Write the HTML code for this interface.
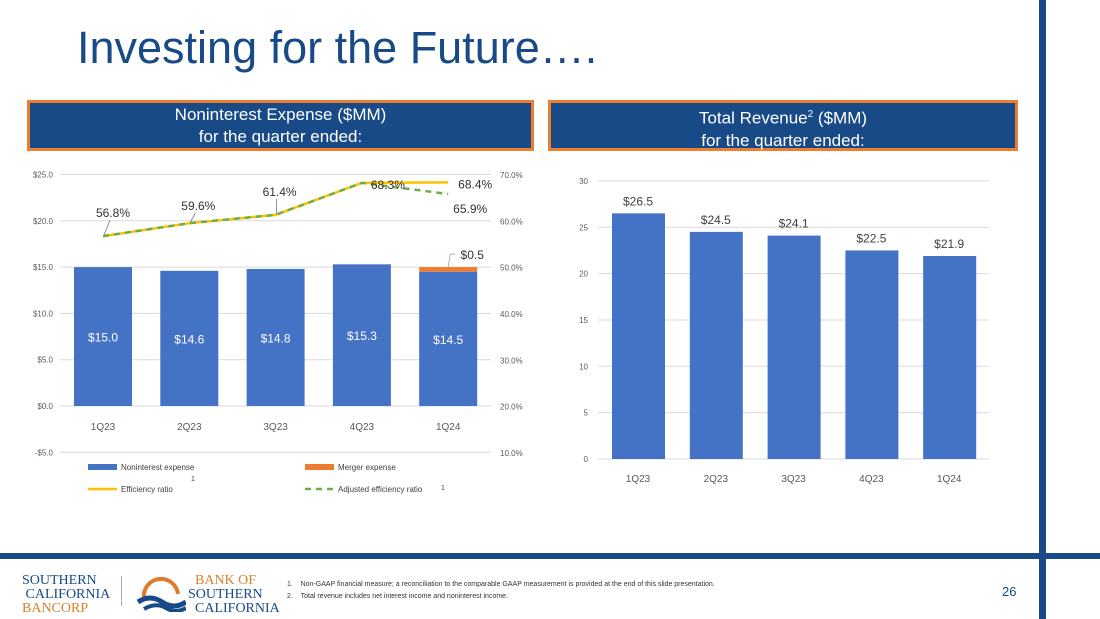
<!DOCTYPE html>
<html><head><meta charset="utf-8"><style>
body{margin:0;width:1100px;height:619px;overflow:hidden;background:#fff;font-family:"Liberation Sans",sans-serif;position:relative}
.hdr{position:absolute;top:100px;height:44px;background:#174a87;border:3px solid #ed7d31;color:#fff;text-align:center;font-size:17px;line-height:22px;padding-top:1px}
</style></head><body>
<div style="position:absolute;left:1039px;top:0;width:7px;height:619px;background:#174a87"></div>
<div style="position:absolute;left:0;top:553px;width:1100px;height:6px;background:#174a87"></div>
<div style="position:absolute;left:77px;top:22px;font-size:45px;color:#174a87">Investing for the Future….</div>
<div class="hdr" style="left:27px;width:501px">Noninterest Expense ($MM)<br>for the quarter ended:</div>
<div class="hdr" style="left:548px;width:464px">Total Revenue<sup style="font-size:10px">2</sup> ($MM)<br>for the quarter ended:</div>
<svg id="c1" width="1100" height="619" style="position:absolute;left:0;top:0" font-family="Liberation Sans, sans-serif"></svg>
<div style="position:absolute;left:22px;top:574px;font-family:'Liberation Serif',serif;font-size:14px;line-height:14px;color:#174a87">SOUTHERN<br>&nbsp;CALIFORNIA<br><span style="color:#d9812f">BANCORP</span></div>
<div style="position:absolute;left:121px;top:576px;width:1px;height:30px;background:#aaa"></div>
<svg style="position:absolute;left:136px;top:572px" width="50" height="40"><path d="M8 26 A17 17 0 1 1 42 22" fill="none" stroke="#e07b2b" stroke-width="4"/><path d="M2 30 Q14 22 26 30 T50 30" stroke="#174a87" stroke-width="5" fill="none"/><path d="M8 37 Q20 30 30 36 T50 36" stroke="#174a87" stroke-width="4" fill="none"/></svg>
<div style="position:absolute;left:188px;top:574px;font-family:'Liberation Serif',serif;font-size:14px;line-height:14px;color:#174a87"><span style="color:#d9812f">&nbsp;&nbsp;BANK OF</span><br>SOUTHERN<br>&nbsp;&nbsp;CALIFORNIA</div>
<div style="position:absolute;left:287px;top:579px;font-size:7px;line-height:12px;color:#333">1.&nbsp;&nbsp;&nbsp;&nbsp;Non-GAAP financial measure; a reconciliation to the comparable GAAP measurement is provided at the end of this slide presentation.<br>2.&nbsp;&nbsp;&nbsp;&nbsp;Total revenue includes net interest income and noninterest income.</div>
<div style="position:absolute;left:1002px;top:584px;font-size:13px;color:#174a87">26</div>
<script>
const cats=["1Q23","2Q23","3Q23","4Q23","1Q24"];
const nonint=[15.0,14.6,14.8,15.3,14.5];
const merger=[0,0,0,0,0.5];
const eff=[56.8,59.6,61.4,68.3,68.4];
const adjEff=[56.8,59.6,61.4,68.3,65.9];
const leftTicks=[-5,0,5,10,15,20,25];
const rightTicks=[10,20,30,40,50,60,70];
const revenue=[26.5,24.5,24.1,22.5,21.9];
const revTicks=[0,5,10,15,20,25,30];
const NS="http://www.w3.org/2000/svg";
const svg=document.getElementById('c1');
function el(t,a,txt){const e=document.createElementNS(NS,t);for(const k in a)e.setAttribute(k,a[k]);if(txt!==undefined)e.textContent=txt;svg.appendChild(e);return e;}
const yL=v=>406-v*9.26, yR=p=>175+(70-p)*4.633, xL=i=>103+i*86.3;
leftTicks.forEach(t=>{const g=el('line',{x1:60,x2:491,y1:yL(t),y2:yL(t),stroke:'#d9d9d9'});
const l=el('text',{x:53,y:yL(t)+3,'text-anchor':'end','font-size':8,fill:'#595959'},(t<0?'-$':'$')+Math.abs(t).toFixed(1));});
rightTicks.forEach(t=>{const l=el('text',{x:500,y:yR(t)+3,'font-size':8,fill:'#595959'},t.toFixed(1)+'%');});
cats.forEach((c,i)=>{const x=xL(i);
const b=el('rect',{x:x-29,y:yL(nonint[i]),width:58,height:nonint[i]*9.26,fill:'#4472c4'});
if(merger[i]>0){const top=yL(nonint[i]+merger[i]);const m=el('rect',{x:x-29,y:top,width:58,height:merger[i]*9.26,fill:'#ed7d31'});
const ml=el('text',{x:x+24,y:top-8,'text-anchor':'middle','font-size':12,fill:'#333'},'$'+merger[i].toFixed(1));
el('path',{d:`M${x} ${top} L${x+2} ${top-13} L${x+7} ${top-13}`,stroke:'#999',fill:'none','stroke-width':0.7});}
const bl=el('text',{x:x,y:yL(nonint[i]/2)+5,'text-anchor':'middle','font-size':12,fill:'#fff'},'$'+nonint[i].toFixed(1));
const xl=el('text',{x:x,y:430,'text-anchor':'middle','font-size':10,fill:'#595959'},c);});
const p1=el('polyline',{points:eff.map((v,i)=>xL(i)+','+yR(v)).join(' '),fill:'none',stroke:'#ffc000','stroke-width':2.5});
const p2=el('polyline',{points:adjEff.map((v,i)=>xL(i)+','+yR(v)).join(' '),fill:'none',stroke:'#70ad47','stroke-width':2.5,'stroke-dasharray':'6,5'});
const ldx=[10,9,4,26,27], ldy=[-19,-13,-19,6,6];
eff.forEach((v,i)=>{const t=el('text',{x:xL(i)+ldx[i],y:yR(v)+ldy[i],'text-anchor':'middle','font-size':12,fill:'#333'},v.toFixed(1)+'%');
if(i<3)el('line',{x1:xL(i)+1,y1:yR(v)-1,x2:xL(i)+ldx[i]-3,y2:yR(v)+ldy[i]+3,stroke:'#666','stroke-width':0.7});});
const al=el('text',{x:xL(4)+22,y:yR(adjEff[4])+19,'text-anchor':'middle','font-size':12,fill:'#333'},adjEff[4].toFixed(1)+'%');
[[0,'rect','#4472c4','Noninterest expense',88,467],[1,'rect','#ed7d31','Merger expense',305,467],[2,'line','#ffc000','Efficiency ratio',88,489],[3,'dash','#70ad47','Adjusted efficiency ratio',305,489]].forEach(l=>{
if(l[1]=='rect')el('rect',{x:l[4],y:l[5]-3,width:29,height:6,fill:l[2]});else el('line',{x1:l[4],x2:l[4]+29,y1:l[5],y2:l[5],stroke:l[2],'stroke-width':2.5,'stroke-dasharray':l[1]=='dash'?'6,5':''});
const t=el('text',{x:l[4]+33,y:l[5]+3,'font-size':8,fill:'#404040'},l[3]);});
el('text',{x:191,y:481,'font-size':7,fill:'#404040'},'1');el('text',{x:441,y:490,'font-size':7,fill:'#404040'},'1');
const yV=v=>459-v*9.27, xV=i=>638+i*77.8;
revTicks.forEach(t=>{const g=el('line',{x1:598,x2:989,y1:yV(t),y2:yV(t),stroke:'#d9d9d9'});
const l=el('text',{x:588,y:yV(t)+3,'text-anchor':'end','font-size':8,fill:'#595959'},t);});
revenue.forEach((v,i)=>{const x=xV(i);
const b=el('rect',{x:x-26,y:yV(v),width:53,height:v*9.27,fill:'#4472c4'});
const t=el('text',{x:x,y:yV(v)-8,'text-anchor':'middle','font-size':12,fill:'#404040'},'$'+v.toFixed(1));
const xl=el('text',{x:x,y:482,'text-anchor':'middle','font-size':10,fill:'#595959'},cats[i]);});
</script>
</body></html>
